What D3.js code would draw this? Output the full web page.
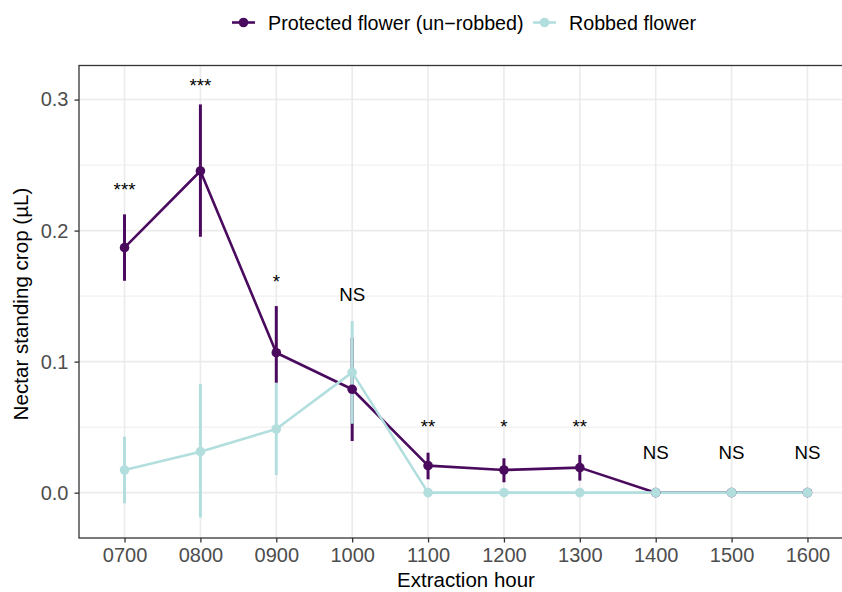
<!DOCTYPE html>
<html>
<head>
<meta charset="utf-8">
<script src="https://cdn.jsdelivr.net/npm/d3@7"></script>
<style>
  body { margin: 0; background: #fff; }
  svg { display: block; font-family: "Liberation Sans", Arial, sans-serif; }
</style>
</head>
<body>
<div id="chart"></div>
<script>
// Nectar standing crop by extraction hour

const hours = ['0700', '0800', '0900', '1000', '1100', '1200', '1300', '1400', '1500', '1600'];

const protectedMean  = [0.187, 0.2455, 0.1068, 0.0789, 0.0206, 0.0173, 0.0191, 0, 0, 0];
const protectedLower = [0.1617, 0.1953, 0.0839, 0.0394, 0.0102, 0.0079, 0.0092, 0, 0, 0];
const protectedUpper = [0.2124, 0.2963, 0.1424, 0.1184, 0.0305, 0.0262, 0.0288, 0, 0, 0];

const robbedMean  = [0.0173, 0.0313, 0.0486, 0.0918, 0, 0, 0, 0, 0, 0];
const robbedLower = [-0.0081, -0.019, 0.0135, 0.0526, 0, 0, 0, 0, 0, 0];
const robbedUpper = [0.0427, 0.0830, 0.0837, 0.1310, 0, 0, 0, 0, 0, 0];

const sigLabels = ['***', '***', '*', 'NS', '**', '*', '**', 'NS', 'NS', 'NS'];
const sigY      = [0.2261, 0.3061, 0.1564, 0.1462, 0.0458, 0.0458, 0.0458, 0.0257, 0.0257, 0.0257];

const yTicks = [0, 0.1, 0.2, 0.3];
const yMinor = [0.05, 0.15, 0.25];

const seriesNames = ['Protected flower (un\u2212robbed)', 'Robbed flower'];
const seriesColors = ['#4a0b5e', '#b3dede'];

const width = 842, height = 592;
const panel = {left: 79, top: 65.5, right: 853, bottom: 538};

const svg = d3.select('#chart').append('svg')
    .attr('width', width)
    .attr('height', height);

const x = d3.scalePoint()
    .domain(hours)
    .range([panel.left, panel.right])
    .padding(0.6);

const y = d3.scaleLinear()
    .domain([-0.0346, 0.326])
    .range([panel.bottom, panel.top]);

// gridlines
const grid = svg.append('g');
grid.selectAll('.minor')
    .data(yMinor)
    .join('line')
    .attr('x1', panel.left).attr('x2', panel.right)
    .attr('y1', d => y(d)).attr('y2', d => y(d))
    .attr('stroke', '#ebebeb').attr('stroke-width', 0.9);
grid.selectAll('.major-y')
    .data(yTicks)
    .join('line')
    .attr('x1', panel.left).attr('x2', panel.right)
    .attr('y1', d => y(d)).attr('y2', d => y(d))
    .attr('stroke', '#ebebeb').attr('stroke-width', 1.6);
grid.selectAll('.major-x')
    .data(hours)
    .join('line')
    .attr('y1', panel.top).attr('y2', panel.bottom)
    .attr('x1', d => x(d)).attr('x2', d => x(d))
    .attr('stroke', '#ebebeb').attr('stroke-width', 1.6);

const series = [
    {name: seriesNames[0], color: seriesColors[0], mean: protectedMean, lower: protectedLower, upper: protectedUpper},
    {name: seriesNames[1], color: seriesColors[1], mean: robbedMean, lower: robbedLower, upper: robbedUpper}
];

// error bars
series.forEach(s => {
    svg.append('g').selectAll('line')
        .data(hours.map((h, i) => ({h, lo: s.lower[i], hi: s.upper[i]})).filter(d => d.hi > d.lo))
        .join('line')
        .attr('x1', d => x(d.h)).attr('x2', d => x(d.h))
        .attr('y1', d => y(d.lo)).attr('y2', d => y(d.hi))
        .attr('stroke', s.color)
        .attr('stroke-width', 3);
});

// lines
const line = d3.line()
    .x(d => x(d.h))
    .y(d => y(d.v));
series.forEach(s => {
    svg.append('path')
        .datum(hours.map((h, i) => ({h, v: s.mean[i]})))
        .attr('d', line)
        .attr('fill', 'none')
        .attr('stroke', s.color)
        .attr('stroke-width', 2.6)
        .attr('stroke-linejoin', 'round');
});

// points
series.forEach(s => {
    svg.append('g').selectAll('circle')
        .data(hours.map((h, i) => ({h, v: s.mean[i]})))
        .join('circle')
        .attr('cx', d => x(d.h))
        .attr('cy', d => y(d.v))
        .attr('r', 4.8)
        .attr('fill', s.color);
});

// significance labels
svg.append('g').selectAll('text')
    .data(hours.map((h, i) => ({h, label: sigLabels[i], v: sigY[i]})))
    .join('text')
    .attr('x', d => x(d.h))
    .attr('y', d => y(d.v))
    .attr('text-anchor', 'middle')
    .attr('font-size', 18.7)
    .attr('fill', '#000')
    .text(d => d.label);

// panel border
svg.append('rect')
    .attr('x', panel.left).attr('y', panel.top)
    .attr('width', panel.right - panel.left)
    .attr('height', panel.bottom - panel.top)
    .attr('fill', 'none')
    .attr('stroke', '#333')
    .attr('stroke-width', 1.3);

// axes
const xAxis = svg.append('g')
    .attr('transform', `translate(0,${panel.bottom})`)
    .call(d3.axisBottom(x).tickSize(4.5).tickPadding(5));
const yAxis = svg.append('g')
    .attr('transform', `translate(${panel.left},0)`)
    .call(d3.axisLeft(y).tickValues(yTicks).tickFormat(d3.format('.1f')).tickSize(4.5).tickPadding(6));

[xAxis, yAxis].forEach(a => {
    a.select('.domain').remove();
    a.selectAll('.tick line').attr('stroke', '#333').attr('stroke-width', 1.3);
    a.selectAll('.tick text')
        .attr('fill', '#4d4d4d')
        .attr('font-size', 20)
        .attr('font-family', '"Liberation Sans", Arial, sans-serif');
});

// axis titles
svg.append('text')
    .attr('x', (panel.left + panel.right) / 2)
    .attr('y', 587)
    .attr('text-anchor', 'middle')
    .attr('font-size', 20.5)
    .text('Extraction hour');

svg.append('text')
    .attr('transform', `translate(28,304) rotate(-90)`)
    .attr('text-anchor', 'middle')
    .attr('font-size', 20.6)
    .text('Nectar standing crop (\u00b5L)');

// legend
const legendX = [232, 533];
const legend = svg.append('g').attr('transform', 'translate(0,22.5)');
series.forEach((s, i) => {
    const g = legend.append('g').attr('transform', `translate(${legendX[i]},0)`);
    g.append('line')
        .attr('x1', 0).attr('x2', 23)
        .attr('stroke', s.color).attr('stroke-width', 2.6);
    g.append('circle')
        .attr('cx', 11.5).attr('r', 4.8)
        .attr('fill', s.color);
    g.append('text')
        .attr('x', 36)
        .attr('y', 7)
        .attr('font-size', 19.7)
        .text(s.name);
});
</script>
</body>
</html>
